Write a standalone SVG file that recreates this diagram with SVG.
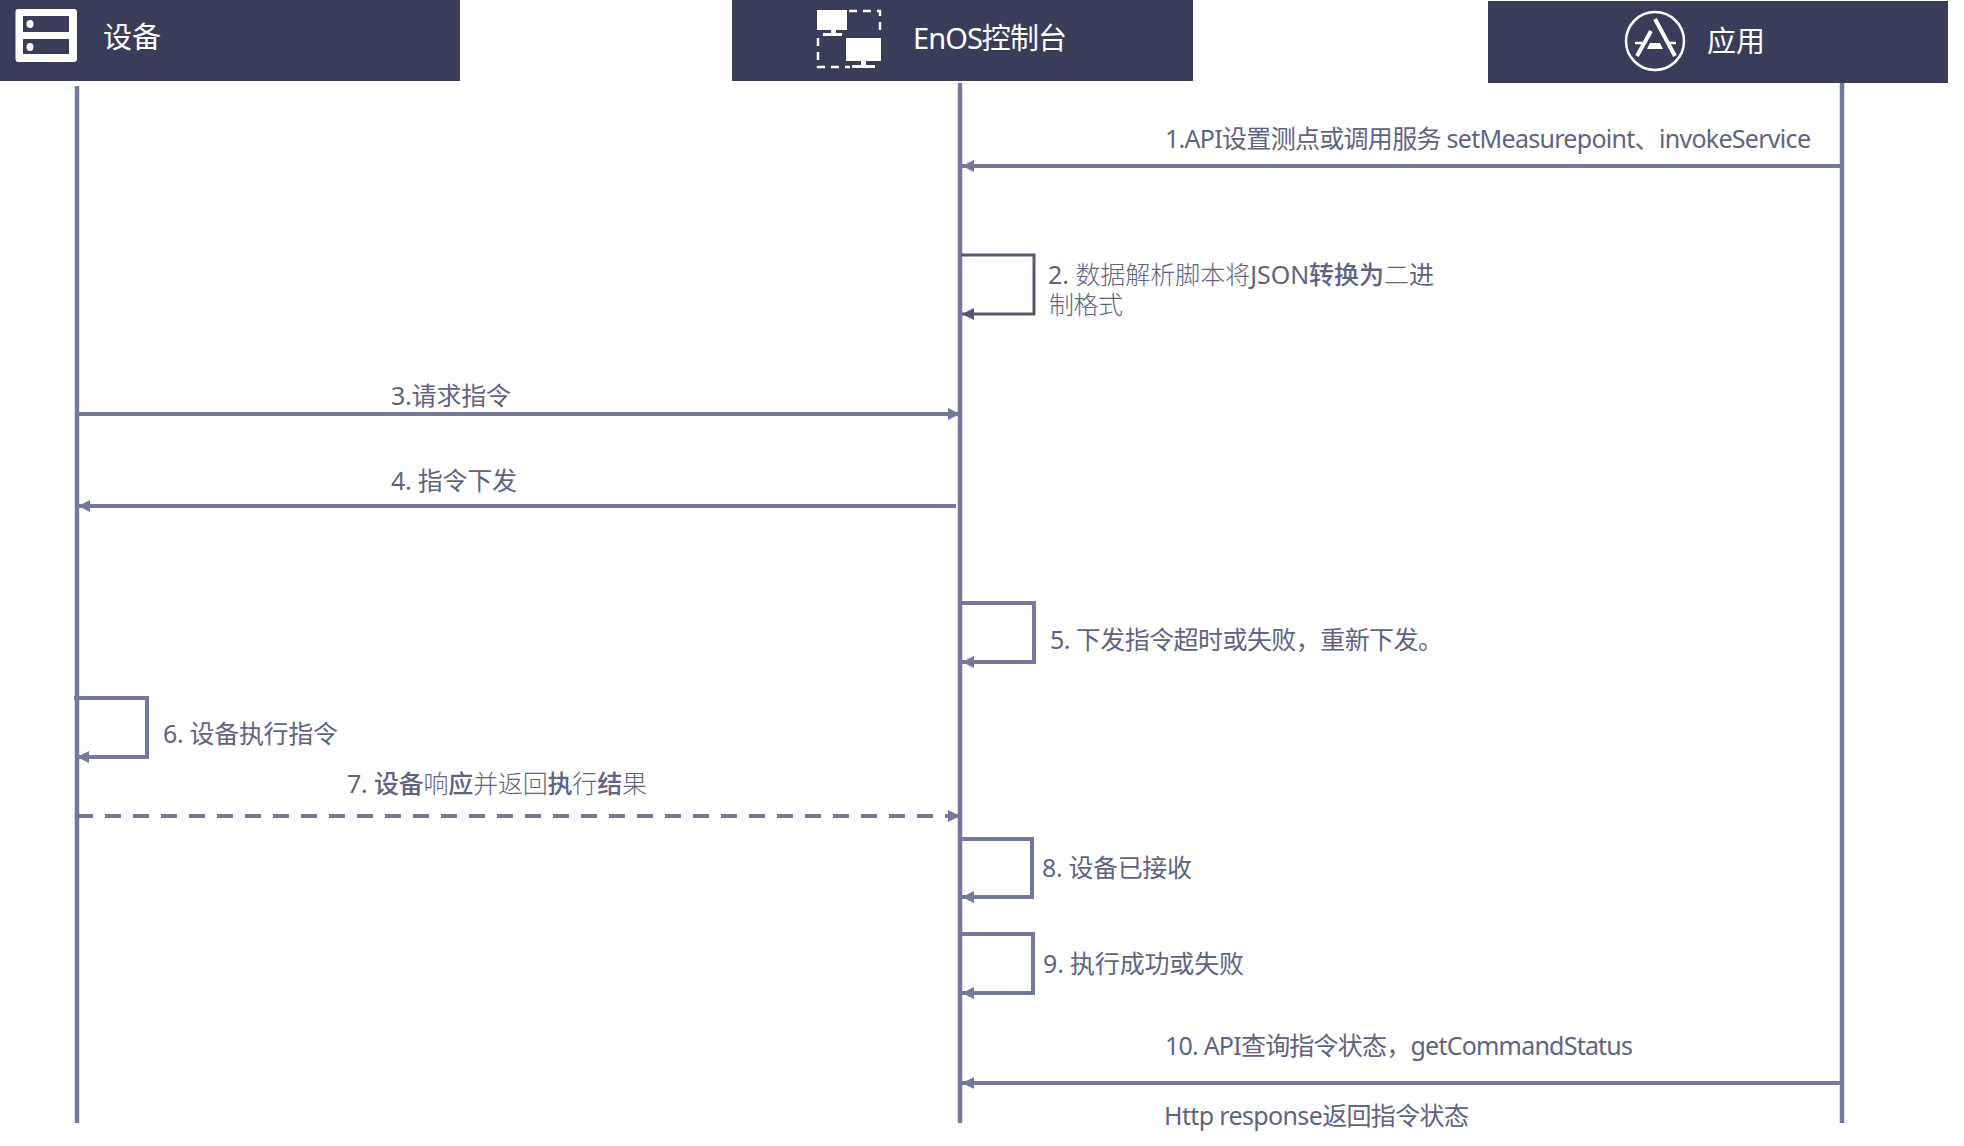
<svg xmlns="http://www.w3.org/2000/svg" width="1964" height="1146" viewBox="0 0 1964 1146">
<style>
.hd{fill:#3a3d59}
.ht{fill:#fff;font:400 29px "Noto Sans","Noto Sans CJK SC",sans-serif}
.t{fill:#5f6383;font:400 25px "Noto Sans","Noto Sans CJK SC",sans-serif}
.b{font-weight:500}
.l{font-weight:300}
.life{stroke:#74789a;stroke-width:4.5;fill:none}
.c{stroke:#74789a;stroke-width:4;fill:none}
.d{stroke:#565a6e;stroke-width:3;fill:none}
.w{fill:#fff}
.ws{stroke:#fff;fill:none}
</style>
<defs>
<marker id="a" markerUnits="userSpaceOnUse" markerWidth="14" markerHeight="14" refX="12" refY="7" orient="auto"><path d="M0 1L12 7L0 13z" fill="#74789a"/></marker>
<marker id="ad" markerUnits="userSpaceOnUse" markerWidth="14" markerHeight="14" refX="12" refY="7" orient="auto"><path d="M0 1L12 7L0 13z" fill="#565a6e"/></marker>
</defs>
<g id="device">
<rect class="hd" x="0" y="0" width="460" height="81"/>
<rect class="w" x="15.5" y="9" width="61.5" height="53" rx="3"/>
<rect class="hd" x="23" y="16" width="46" height="16"/>
<rect class="hd" x="23" y="39" width="46" height="15"/>
<ellipse class="w" cx="30" cy="24" rx="3.5" ry="4"/>
<ellipse class="w" cx="30" cy="47" rx="3.5" ry="4"/>
<text class="ht" x="103" y="48" textLength="58">设备</text>
</g>
<g id="enos">
<rect class="hd" x="732" y="0" width="461" height="81"/>
<rect class="w" x="817" y="10" width="30" height="20"/>
<rect class="w" x="831" y="30" width="5" height="4"/>
<rect class="w" x="823" y="33" width="19" height="3"/>
<rect class="w" x="846" y="38" width="35" height="23"/>
<rect class="w" x="861" y="61" width="5" height="4"/>
<rect class="w" x="852" y="65" width="23" height="3"/>
<path class="ws" stroke-width="2.5" stroke-dasharray="8 6" d="M849 11H880V36M818 38V67H850"/>
<text class="ht" x="913" y="49" textLength="154">EnOS控制台</text>
</g>
<g id="app">
<rect class="hd" x="1488" y="1" width="460" height="82"/>
<circle class="ws" stroke-width="2.5" cx="1655" cy="41" r="29"/>
<path class="ws" stroke-width="4" d="M1655 19L1675 56M1651 31L1637 56"/>
<path class="ws" stroke-width="2.5" d="M1635 43H1642M1668 43H1676"/>
<path class="w" d="M1650 43H1660L1663 49H1647z"/>
<text class="ht" x="1707" y="52" textLength="58">应用</text>
</g>
<g id="connectors">
<path class="life" d="M77 86V1123M960 83V1123M1842 83V1123"/>
<path class="c" marker-end="url(#a)" d="M1842 166H962"/>
<path class="d" marker-end="url(#ad)" d="M961 255H1034V314H962"/>
<path class="c" marker-end="url(#a)" d="M77 414H960"/>
<path class="c" marker-end="url(#a)" d="M956 506H78"/>
<path class="c" marker-end="url(#a)" d="M961 603H1034V662H962"/>
<path class="c" marker-end="url(#a)" d="M74 698H147V757H77"/>
<path class="c" marker-end="url(#a)" stroke-dasharray="16 12" d="M77 816H960"/>
<path class="c" marker-end="url(#a)" d="M961 839H1032V897H962"/>
<path class="c" marker-end="url(#a)" d="M961 934H1033V993H962"/>
<path class="c" marker-end="url(#a)" d="M1842 1083H962"/>
</g>
<g id="labels">
<text class="t" x="1165" y="148" textLength="646">1.API设置测点或调用服务 setMeasurepoint、invokeService</text>
<text class="t" x="1048" y="284" textLength="386"><tspan>2. </tspan><tspan class="l">数据解析脚本将</tspan><tspan>JSON</tspan><tspan class="b">转换为</tspan><tspan class="l">二</tspan><tspan>进</tspan></text>
<text class="t l" x="1049" y="314" textLength="74">制格式</text>
<text class="t" x="391" y="405" textLength="120">3.请求指令</text>
<text class="t" x="391" y="490" textLength="126">4. 指令下发</text>
<text class="t" x="1050" y="649" textLength="393">5. 下发指令超时或失败，重新下发。</text>
<text class="t" x="163" y="743" textLength="175">6. 设备执行指令</text>
<text class="t" x="347" y="793" textLength="300"><tspan>7. </tspan><tspan class="b">设备</tspan><tspan class="l">响</tspan><tspan class="b">应</tspan><tspan class="l">并返回</tspan><tspan class="b">执</tspan><tspan class="l">行</tspan><tspan class="b">结</tspan><tspan class="l">果</tspan></text>
<text class="t" x="1042" y="877" textLength="150">8. 设备已接收</text>
<text class="t" x="1043" y="973" textLength="201">9. 执行成功或失败</text>
<text class="t" x="1165" y="1055" textLength="468">10. API查询指令状态，getCommandStatus</text>
<text class="t" x="1164" y="1125" textLength="305">Http response返回指令状态</text>
</g>
</svg>
